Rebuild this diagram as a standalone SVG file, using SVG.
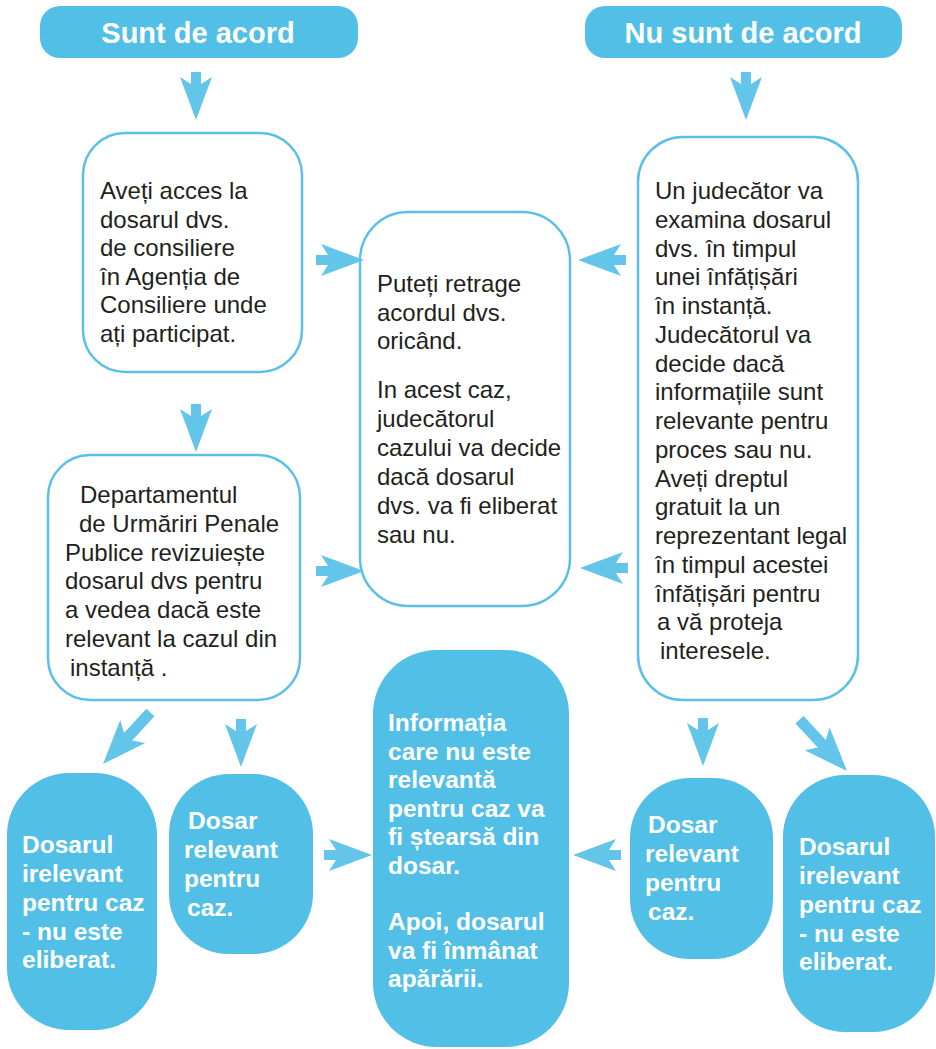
<svg xmlns="http://www.w3.org/2000/svg" xmlns:xlink="http://www.w3.org/1999/xlink" width="936" height="1049" viewBox="0 0 936 1049">
<style>
.hdr{fill:#52BFE6}
.hdrt{font-family:"Liberation Sans",Arial,sans-serif;font-weight:bold;font-size:29px;fill:#fff;text-anchor:middle}
.wn{fill:#fff;stroke:#5BC0E8;stroke-width:2.5}
.bn{fill:#52BFE6}
.t{font-family:"Liberation Sans",Arial,sans-serif;font-size:24px;fill:#231F20}
.bt{font-family:"Liberation Sans",Arial,sans-serif;font-weight:bold;font-size:24.5px;fill:#fff}
.arr{fill:#64C5EB}
</style>
<defs>
<path id="arr" d="M-48,-5 L-36,-5 L-43,-16 L0,0 L-43,16 L-36,5 L-48,5 Z"/>
<path id="arrL" d="M-70,-5.5 L-37,-5.5 L-44,-17 L0,0 L-44,17 L-37,5.5 L-70,5.5 Z"/>
</defs>
<rect width="936" height="1049" fill="#fff"/>

<g id="hdr-agree">
<rect class="hdr" x="40" y="6" width="318" height="52" rx="20"/>
<text class="hdrt" x="198" y="43">Sunt de acord</text>
</g>
<g id="hdr-disagree">
<rect class="hdr" x="585" y="6" width="317" height="52" rx="20"/>
<text class="hdrt" x="743" y="43">Nu sunt de acord</text>
</g>

<g id="node-access">
<rect class="wn" x="83" y="133" width="219" height="239" rx="42"/>
<text class="t" x="100"><tspan x="100" y="199">Aveți acces la</tspan><tspan x="100" y="227.5">dosarul dvs.</tspan><tspan x="100" y="256">de consiliere</tspan><tspan x="100" y="284.5">în Agenția de</tspan><tspan x="100" y="313">Consiliere unde</tspan><tspan x="100" y="341.5">ați participat.</tspan></text>
</g>

<g id="node-dept">
<rect class="wn" x="48" y="455" width="252" height="245" rx="42"/>
<text class="t"><tspan x="80" y="503">Departamentul</tspan><tspan x="79" y="531.8">de Urmăriri Penale</tspan><tspan x="65" y="560.6">Publice revizuiește</tspan><tspan x="65" y="589.4">dosarul dvs pentru</tspan><tspan x="65" y="618.2">a vedea dacă este</tspan><tspan x="65" y="647">relevant la cazul din</tspan><tspan x="70" y="675.8">instanță .</tspan></text>
</g>

<g id="node-withdraw">
<rect class="wn" x="360" y="212" width="210" height="394" rx="48"/>
<text class="t"><tspan x="377" y="292">Puteți retrage</tspan><tspan x="377" y="320.5">acordul dvs.</tspan><tspan x="377" y="349">oricând.</tspan><tspan x="377" y="398">In acest caz,</tspan><tspan x="377" y="427">judecătorul</tspan><tspan x="377" y="456">cazului va decide</tspan><tspan x="377" y="485">dacă dosarul</tspan><tspan x="377" y="514">dvs. va fi eliberat</tspan><tspan x="377" y="543">sau nu.</tspan></text>
</g>

<g id="node-judge">
<rect class="wn" x="638" y="137" width="220" height="563" rx="45"/>
<text class="t"><tspan x="655" y="199">Un judecător va</tspan><tspan x="655" y="227.75">examina dosarul</tspan><tspan x="655" y="256.5">dvs. în timpul</tspan><tspan x="655" y="285.25">unei înfățișări</tspan><tspan x="655" y="314">în instanță.</tspan><tspan x="655" y="342.75">Judecătorul va</tspan><tspan x="655" y="371.5">decide dacă</tspan><tspan x="655" y="400.25">informațiile sunt</tspan><tspan x="655" y="429">relevante pentru</tspan><tspan x="655" y="457.75">proces sau nu.</tspan><tspan x="655" y="486.5">Aveți dreptul</tspan><tspan x="655" y="515.25">gratuit la un</tspan><tspan x="655" y="544">reprezentant legal</tspan><tspan x="655" y="572.75">în timpul acestei</tspan><tspan x="655" y="601.5">înfățișări pentru</tspan><tspan x="657" y="630.25">a vă proteja</tspan><tspan x="660" y="659">interesele.</tspan></text>
</g>

<g id="node-irrelevant-left">
<rect class="bn" x="7" y="773" width="150" height="257" rx="62"/>
<text class="bt"><tspan x="22" y="853">Dosarul</tspan><tspan x="22" y="882">irelevant</tspan><tspan x="22" y="911">pentru caz</tspan><tspan x="22" y="940">- nu este</tspan><tspan x="22" y="968">eliberat.</tspan></text>
</g>

<g id="node-relevant-left">
<rect class="bn" x="169" y="774" width="144" height="180" rx="60"/>
<text class="bt"><tspan x="188" y="829">Dosar</tspan><tspan x="184" y="858">relevant</tspan><tspan x="184" y="887">pentru</tspan><tspan x="187" y="916">caz.</tspan></text>
</g>

<g id="node-info">
<rect class="bn" x="373" y="650" width="196" height="397" rx="64"/>
<text class="bt"><tspan x="388" y="731">Informația</tspan><tspan x="388" y="759.6">care nu este</tspan><tspan x="388" y="788.2">relevantă</tspan><tspan x="388" y="816.8">pentru caz va</tspan><tspan x="388" y="845.4">fi ștearsă din</tspan><tspan x="388" y="874">dosar.</tspan><tspan x="388" y="930">Apoi, dosarul</tspan><tspan x="388" y="958.6">va fi înmânat</tspan><tspan x="388" y="987.2">apărării.</tspan></text>
</g>

<g id="node-relevant-right">
<rect class="bn" x="630" y="778" width="143" height="181" rx="60"/>
<text class="bt"><tspan x="648" y="833">Dosar</tspan><tspan x="645" y="862">relevant</tspan><tspan x="645" y="891">pentru</tspan><tspan x="648" y="920">caz.</tspan></text>
</g>

<g id="node-irrelevant-right">
<rect class="bn" x="783" y="775" width="152" height="257" rx="62"/>
<text class="bt"><tspan x="799" y="855">Dosarul</tspan><tspan x="799" y="884">irelevant</tspan><tspan x="799" y="913">pentru caz</tspan><tspan x="799" y="942">- nu este</tspan><tspan x="799" y="970">eliberat.</tspan></text>
</g>

<g id="connectors" class="arr">
<use xlink:href="#arr" href="#arr" transform="translate(196,120) rotate(90)"/>
<use xlink:href="#arr" href="#arr" transform="translate(746,120) rotate(90)"/>
<use xlink:href="#arr" href="#arr" transform="translate(196,452) rotate(90)"/>
<use xlink:href="#arr" href="#arr" transform="translate(364,260)"/>
<use xlink:href="#arr" href="#arr" transform="translate(364,571)"/>
<use xlink:href="#arr" href="#arr" transform="translate(578,260) rotate(180)"/>
<use xlink:href="#arr" href="#arr" transform="translate(580,568) rotate(180)"/>
<use xlink:href="#arrL" href="#arrL" transform="translate(103,764) rotate(132.6)"/>
<use xlink:href="#arr" href="#arr" transform="translate(241,767) rotate(90)"/>
<use xlink:href="#arr" href="#arr" transform="translate(703,766) rotate(90)"/>
<use xlink:href="#arrL" href="#arrL" transform="translate(847,771) rotate(47.2)"/>
<use xlink:href="#arr" href="#arr" transform="translate(372,855)"/>
<use xlink:href="#arr" href="#arr" transform="translate(573,855) rotate(180)"/>
</g>
</svg>
